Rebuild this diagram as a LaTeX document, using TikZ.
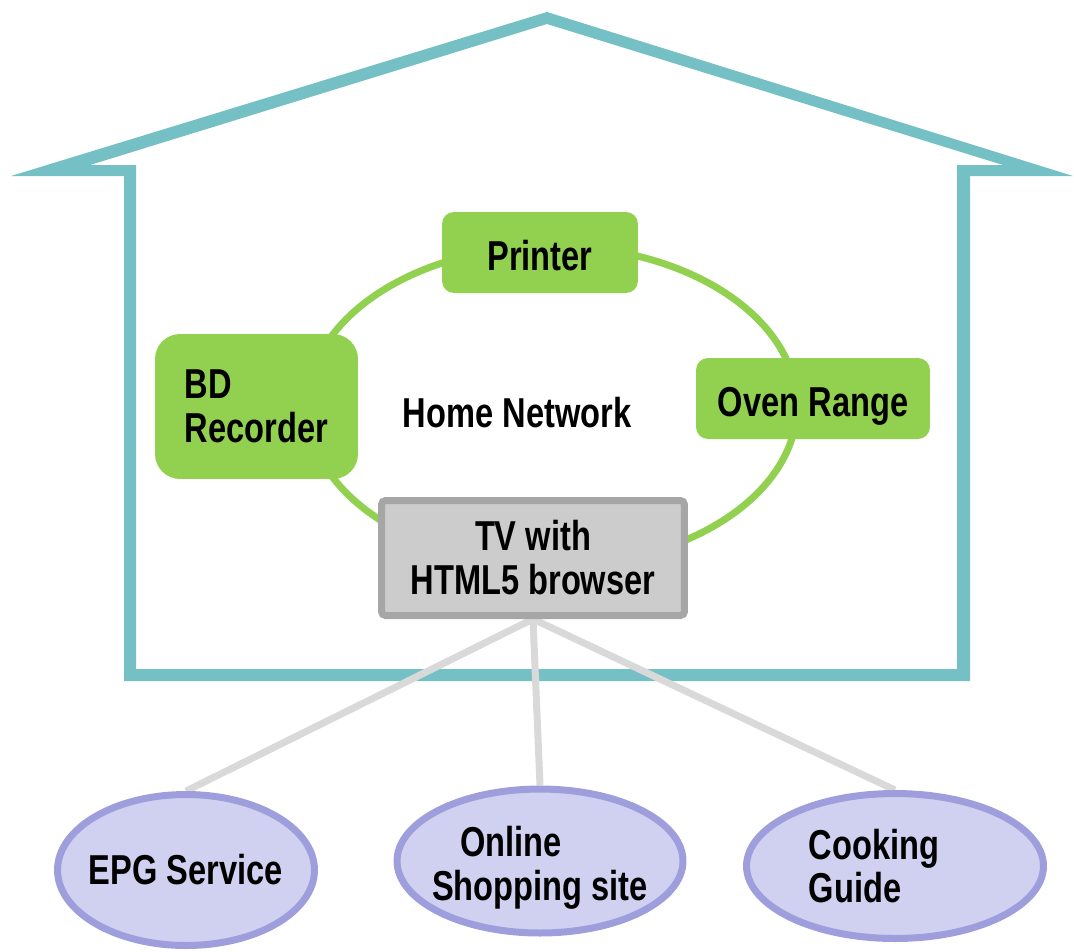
\documentclass[tikz,border=0pt]{standalone}
\usepackage{fontspec}
\setmainfont{Liberation Sans}[FakeStretch=0.78]
\usepackage{xcolor}
\usepackage{tikz}
\usetikzlibrary{shapes.geometric, backgrounds, positioning}

\definecolor{houseteal}{RGB}{116,192,197}
\definecolor{netgreen}{RGB}{146,208,80}
\definecolor{tvfill}{RGB}{204,204,204}
\definecolor{tvborder}{RGB}{166,166,166}
\definecolor{linkgray}{RGB}{217,217,217}
\definecolor{servfill}{RGB}{208,208,240}
\definecolor{servborder}{RGB}{158,158,220}

\begin{document}
\begin{tikzpicture}[x=0.02cm, y=-0.02cm,
    every node/.style={font=\fontsize{23.8}{25}\selectfont\bfseries, inner sep=0pt},
    device/.style={fill=netgreen, rounded corners=0.24cm},
    oneline/.style={text height=20pt, text depth=0pt},
    tvbox/.style={fill=tvfill, draw=tvborder, line width=0.14cm, rounded corners=0.08cm,
        minimum width=6.06cm, minimum height=2.3cm, align=center},
    service/.style={ellipse, fill=servfill, draw=servborder, line width=0.14cm,
        inner xsep=-0.4cm, inner ysep=0pt, align=left},
    link/.style={draw=linkgray, line width=0.14cm}]

\useasboundingbox (0,0) rectangle (1074,951);

% house outline
\begin{pgfonlayer}{background}
\fill[houseteal, even odd rule]
    (11,176) -- (547,12) -- (1073,176) -- (970,176) -- (970,681) -- (124,681) -- (124,176) -- cycle
    (90,165) -- (547,24) -- (1003,165) -- (957,165) -- (957,669) -- (136,669) -- (136,165) -- cycle;
\end{pgfonlayer}

% home network ring
\draw[netgreen, line width=0.14cm] (552,406) ellipse (4.9cm and 3.2cm);

\node[device, oneline, minimum width=3.92cm, minimum height=1.62cm] (printer) at (540,252.5) {Printer};
\node[device, rounded corners=0.5cm, minimum width=4.06cm, minimum height=2.9cm, align=left]
    (bd) at (256.5,406.5) {BD\\Recorder};
\node[device, oneline, minimum width=4.68cm, minimum height=1.62cm] (oven) at (813,398.5) {Oven Range};
\node[oneline] (home) at (517,410) {Home Network};
\node[tvbox] (tv) at (533,558) {TV with\\HTML5 browser};

% web services
\node[service, minimum width=5.14cm, minimum height=3.02cm] (epg) at (186,870) {EPG Service};
\node[service, minimum width=5.72cm, minimum height=2.88cm] (shop) at (540,861)
    {\rule{0pt}{0.89cm}\hspace*{0.56cm}Online\\Shopping site};
\node[service, minimum width=5.94cm, minimum height=2.9cm] (cook) at (895,866)
    {Cooking\hspace*{0.84cm}\\Guide};

\begin{pgfonlayer}{background}
\foreach \s in {epg,shop,cook}
    \draw[link] (tv.south) -- (\s.north);
\end{pgfonlayer}

\end{tikzpicture}
\end{document}
